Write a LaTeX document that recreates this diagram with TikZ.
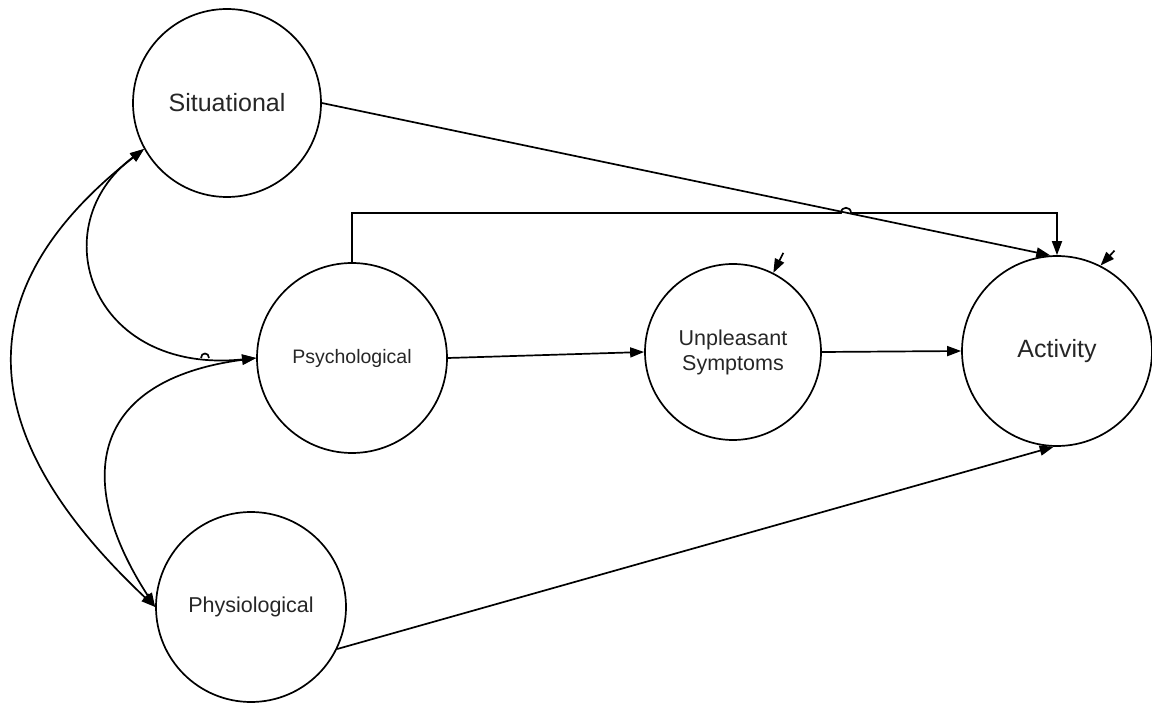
\documentclass[tikz,border=0pt]{standalone}
\usepackage{fontspec}
\setmainfont{Liberation Sans}
\usetikzlibrary{arrows.meta,calc}
\begin{document}
\begin{tikzpicture}[x=1pt,y=-1pt,
  state/.style={draw, circle, line width=1.7pt, inner sep=0pt, align=center, text=black!85},
  conn/.style={line width=1.7pt},
  arr/.style={conn, -{Triangle[length=14pt,width=10pt]}},
  darr/.style={conn, {Triangle[length=14pt,width=10pt]}-{Triangle[length=14pt,width=10pt]}}]
\useasboundingbox (0,0) rectangle (1152,703);
\node[state, minimum size=188pt, font=\fontsize{25}{29}\selectfont] (sit) at (227,103) {Situational};
\node[state, minimum size=190pt, font=\fontsize{19.5}{24}\selectfont] (psy) at (352,358) {Psychological};
\node[state, minimum size=176pt, font=\fontsize{21.5}{25}\selectfont] (us) at (733,352) {Unpleasant\\Symptoms};
\node[state, minimum size=190pt, font=\fontsize{25}{30}\selectfont] (act) at (1057,351) {Activity};
\node[state, minimum size=190pt, font=\fontsize{21.5}{25}\selectfont] (phy) at (251,607) {Physiological};

\coordinate (hopL) at (841,213);
\coordinate (hopR) at (851,213);
\draw[arr] (psy.north) |- (hopL) .. controls ($(hopL)+(0,-7)$) and ($(hopR)+(0,-7)$) .. (hopR) -| (act.north);
\draw[arr] (sit.east) -- (act.94);
\draw[arr] (psy.east) -- (us.west);
\draw[arr] (us.east) -- (act.west);
\draw[arr] (phy.-26) -- (act.-92);

\coordinate (eus) at ($(us.63)+(10,-20)$);
\coordinate (eact) at ($(act.63)+(14,-15)$);
\draw[arr] (eus) -- (us.63);
\draw[arr] (eact) -- (act.63);

\draw[darr] (sit.209) .. controls (-44,296) and (-19,443) .. (phy.west);
\draw[darr] (sit.209) .. controls (41,226) and (90,375) .. (psy.west);
\draw[darr] (psy.west) .. controls (90,380) and (73,480) .. (phy.west);
\coordinate (hop2L) at (201,358);
\coordinate (hop2R) at (209,358);
\draw[conn] (hop2L) .. controls ($(hop2L)+(0,-6)$) and ($(hop2R)+(0,-6)$) .. (hop2R);
\end{tikzpicture}
\end{document}
